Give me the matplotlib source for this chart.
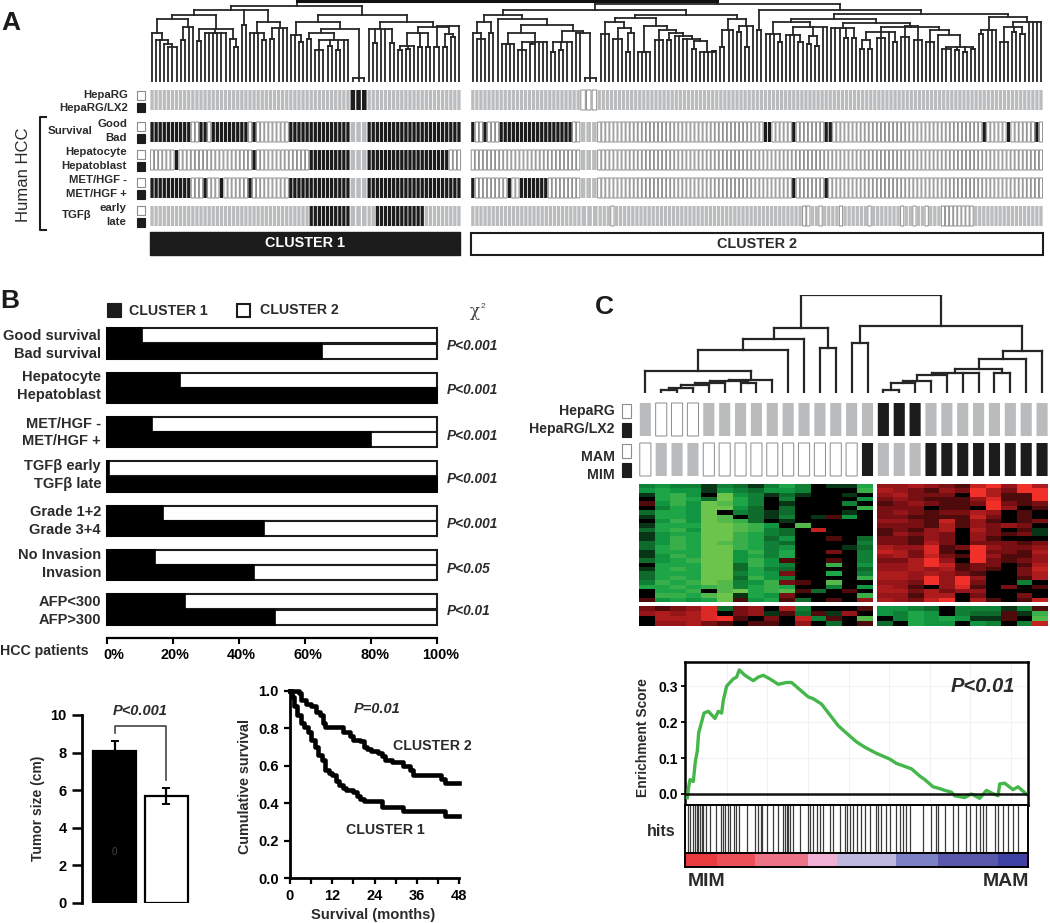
import re
import numpy as np
import matplotlib
matplotlib.use('Agg')
import matplotlib.pyplot as plt
from matplotlib.colors import LinearSegmentedColormap
from matplotlib.patches import Rectangle
from matplotlib.transforms import ScaledTranslation

plt.rcParams['font.family'] = ['Liberation Sans', 'DejaVu Sans']
plt.rcParams['font.weight'] = 'bold'
plt.rcParams['text.color'] = '#2b2b2b'

W, H = 1050, 923
INK = '#1c1c1c'
GREY = '#b9bbbd'

## Panel A, tracks as runs of k(black) w(white) g(grey). Block of 3 in the middle of each cluster is wider
hepa_c1 = "49g 3k 23g"
surv_c1 = "10k 2w 2k 1w 9k 1w 1k 8w 15k 3g 23k"
hepato_c1 = "6w 1k 18w 1k 13w 10k 3g 20k 3w"
met_c1 = "10k 3w 1k 3w 1k 6w 1k 9w 15k 3g 23k"
tgf_c1 = "39g 10k 3g 2g 12k 9g"

hepa_c2 = "27g 3w 110g"
surv_c2 = "1k 2w 1k 3w 18k 2w 3g 41w 2k 5w 1k 7w 2k 37w 1k 5w 1k 6w 1k 1w"
hepato_c2 = "27w 3g 110w"
met_c2 = "1k 8w 1k 2w 7k 8w 3g 48w 1k 7w 1k 53w"
tgf_c2 = "27g 3g 3g 1w 46g 2w 2g 1w 4g 1w 6g 1w 7g 1w 2g 1w 2g 1w 3g 8w 17g"

## dendrogram nodes: [height, children...], a number is a leaf of that width
block = [4, 1.4, 1.4, 1.4]
s1 = [49, 1, [42, 1, 1, [38, 1, [35, 1, 1, 1]]]]
s2 = [55, [42, 1, 1], 1, 1]
s3 = [53, [41, 1, 1], [49, 1, 1, 1, 1, 1, 1], [43, 1, [35, 1, 1]]]
s4a = [57, 1, 1]
s4b = [60, [49, 1, 1, 1, [42, 1, 1]], [54, [43, 1, 1], 1, 1, 1]]
r1a = [47, 1, 1, [40, 1, 1]]
r1c = [49, [43, 1, 1], [42, [32, 1, 1, 1], [36, 1, 1], [32, 1, 1], 1, 1]]
r2a = [53, 1, [39, 1, 1], 1, 1, [39, 1, 1]]
r2b = [49, [36, [32, 1, 1], [33, 1, 1], 1], [35, 1, 1], [35, 1, 1]]
r2c = [56, [35, 1, 1], [48, [35, 1, 1], [45, 1, 1]], 1]
tree_c1 = [76, [72, [67, [63, s1, s2], s3], s4a, s4b],
           [67, [60, r1a, [53, r1c, block]], [60, r2a, [55, r2b, r2c]]]]

a = [60, [49, 1, [43, 1, 1, 1]], [49, 1, 1]]
b1 = [49, [38, 1, 1, 1, 1], [40, [32, 1, 1, 1], [38, 1, 1], 1, 1, 1]]
b2 = [51, [40, [30, 1, 1], [32, 1, 1], 1, 1], [49, 1, 1, block]]
b = [63, 1, [57, b1, b2]]
c1 = [60, [48, 1, 1, 1], [54, [43, 1, 1, 1], [49, [30, 1, 1], 1]]]
c2 = [56, [30, 1, 1, 1, 1], [52, [42, 1, 1, 1], [49, [42, 1, 1], [46, 1, 1, [43, 1, 1, [41, [33, 1, 1], [30, 1, 1, 1, [31, 1, 1]]]]]]]]
c3 = [63, [52, [35, 1, 1], 1, 1], [56, [50, 1, 1], [35, 1, 1], 1]]
e1a = [60, [48, 1, 1, 1, [40, 1, 1]], [55, [47, 1, 1, 1, [40, 1, 1]], [46, [38, 1, 1], [36, 1, 1]], 1, 1]]
e1b = [59, [54, 1, 1, 1, [44, 1, 1], [44, 1, 1]],
       [55, [50, [42, [33, 1, 1], [33, 1, 1]], [44, 1, 1, 1], 1, [40, 1, 1]],
        [56, [45, 1, 1, 1], [42, 1, 1, 1]],
        [52, [40, 1, 1, 1], [47, 1, [35, [33, 1, 1, 1], [32, 1, 1], [30, 1, 1], [33, 1, 1]]]]]]
e2 = [65, [52, [48, 1, 1], 1, 1, 1], [60, [55, [40, 1, 1, 1], [50, 1, 1], [48, 1, 1]], 1, 1, 1, 1]]
tree_c2 = [78, [72, [67, a, b], [67, [64, c1, c2], c3]],
           [72, [52, 1, 1], [68, [63, e1a, e1b], e2]]]

## Panel B
cluster1_pct = [10.5, 65, 22, 100, 13.5, 80, 0.5, 100, 17, 47.5, 14.5, 44.5, 23.5, 51]
row_labels = ['Good survival', 'Bad survival', 'Hepatocyte', 'Hepatoblast', 'MET/HGF -', 'MET/HGF +',
              'TGFβ early', 'TGFβ late', 'Grade 1+2', 'Grade 3+4', 'No Invasion', 'Invasion',
              'AFP<300', 'AFP>300']
p_values = ['P<0.001', 'P<0.001', 'P<0.001', 'P<0.001', 'P<0.001', 'P<0.05', 'P<0.01']
pct_ticks = [0, 20, 40, 60, 80, 100]

## tumor size
tumor_size = [8.1, 5.7]
tumor_err_low = [0, 0.42]
tumor_err_high = [0.5, 0.4]

## survival curves
km2_t = [0, 1, 2.5, 3, 4.5, 6, 7.5, 8.5, 9.5, 10, 13, 15, 17, 18, 20, 21, 22, 23, 25, 26, 27, 29, 32, 34, 35, 42, 43, 44, 48]
km2_s = [1, 1, .99, .95, .93, .92, .89, .87, .83, .81, .81, .78, .76, .74, .73, .70, .69, .68, .67, .65, .63, .62, .60, .58, .55, .55, .53, .51, .51]
km1_t = [0, .5, 1, 2, 3, 4, 5, 6, 7, 8, 9, 10, 11, 12, 13, 14, 15, 16, 18, 19, 20, 21, 25, 26, 31, 32, 43, 44, 48]
km1_s = [1, .97, .92, .87, .83, .81, .78, .74, .70, .66, .63, .58, .56, .55, .52, .50, .48, .47, .46, .44, .42, .41, .41, .38, .38, .36, .36, .33, .33]

## Panel C
hepa_c = "1g 3w 11g 3k 8g"
mam_c = "1w 3g 10w 1k 3g 8k"
tree_c = [98,
          [65, [54, [43, [22, 1, [13, [12, [10, [8, [5, [3, 1, 1], 1], 1], 1], [10, 1, 1]], 1]], 1], 1], [45, 1, 1]],
          [67, [50, 1, 1],
           [42, [34, [24, [20, [18, [12, [10, [3, 1, 1], 1], 1], 1], 1, 1], [20, 1, 1]], 1], 1]]]

# digits are green levels, letters are red levels, 0 is black
heat_left = ["343313213530115", "454414324430006", "156408431210010", "056528530300004",
             "a46487530100030", "035488420200006", "255480321200010", "155487021301a40",
             "046487620100000", "155588764070000", "25648876320e000", "145588653200000",
             "146588652400a02", "246587653200003", "256588653400012", "155588463500b03",
             "146588453500003", "245688464a00a03", "055588264300604", "156588253200002",
             "255588354b00503", "256588264300006", "365687346ba0700", "556567356500304",
             "0556078567a20a0", "066578154b00006", "a45458a45a20a0c"]
heat_right = ["ccdcbaegchd", "dcbacbgdbhg", "cdbbb0hdaai", "bcbaaacfaai", "abcbaabgbab", "bbb0aa0hc0a",
              "bcbabbdc0a0", "bbaaaaeb0a0", "ccbaeaca0ab", "bbbadacbcb0", "abacd0db0a1", "acbcb0cbab1",
              "bbacb0ca000", "bbadb0bbbab", "dccfabgcbbc", "edbfa0hbbad", "cdbebagcaac", "bbdhc0gbabc",
              "ccdheabb0ad", "ccdcdaba0be", "ddcdcba00bd", "ddcgchc00ad", "ccbhchb0030", "dca0cfa0b0a",
              "ddbdbcc0000", "ccadd0b00b0", "dcbeg0da0ae"]
low_left = ["babcf2bc0d3000a", "cdcdf0bc1a2a1c0", "0dddfha0b0e3a07", "0ccdba0aa0c020a"]
low_right = ["4432033313a", "43540322a16", "03545411a07", "2054404303e"]

## enrichment plot, x is gene rank on the axis scale
rank = [172, 176, 180, 190, 196, 202, 206, 212, 222, 235, 255, 265, 275, 280, 290, 300, 310, 320, 328, 345, 370, 385,
        400, 420, 445, 470, 485, 510, 535, 550, 575, 600, 625, 655, 680, 705, 740, 780, 800, 845, 870, 885, 910, 930,
        945, 965, 975, 1005, 1025, 1050, 1070, 1085, 1105, 1110, 1125, 1150, 1165, 1190]
enrichment = [-.01, .02, .04, .035, .09, .12, .17, .19, .225, .23, .21, .23, .225, .26, .30, .31, .32, .325, .345, .33,
              .315, .325, .33, .32, .305, .31, .31, .29, .27, .265, .25, .22, .19, .165, .145, .13, .113, .097, .085,
              .07, .05, .04, .02, .015, .01, .005, -.005, -.01, 0, -.012, .01, .003, -.005, .028, .03, .012, .02, 0]
hits = [175, 180, 190, 195, 200, 205, 210, 215, 220, 228, 240, 258, 272, 278, 285, 295, 300, 312, 318, 328, 350, 375,
        385, 392, 395, 410, 430, 445, 460, 465, 470, 475, 480, 490, 510, 535, 540, 550, 560, 570, 580, 600, 610, 630,
        645, 650, 660, 670, 680, 695, 705, 720, 740, 745, 755, 770, 780, 800, 810, 820, 830, 840, 880, 905, 920, 925,
        945, 970, 985, 1010, 1020, 1040, 1050, 1060, 1070, 1095, 1105, 1120, 1135, 1150, 1165]
rank_edges = [165, 260, 375, 535, 620, 800, 925, 1105, 1185, 1195]
rank_colors = ['#e93a40', '#ea5058', '#ec7488', '#efb0d4', '#bfb8de', '#7c80c4', '#5a58ac', '#3e42a2', '#5a3c98']

fig = plt.figure(figsize=(W / 100, H / 100), dpi=100)


def px_axes(x0, y0, x1, y1, **kw):
    return fig.add_axes([x0 / W, 1 - y1 / H, (x1 - x0) / W, (y1 - y0) / H], **kw)


def expand(runs):
    return ''.join(ch * int(n) for n, ch in re.findall(r'(\d+)([kwg])', runs))


def leaf_total(node):
    if not isinstance(node, list):
        return node
    return sum(leaf_total(c) for c in node[1:])


def draw_tree(ax, node, x, scale, lw):
    """returns centre x, height and the next free x"""
    if not isinstance(node, list):
        return x + node * scale / 2, 0, x + node * scale
    centres = []
    for child in node[1:]:
        cx, ch, x = draw_tree(ax, child, x, scale, lw)
        ax.plot([cx, cx], [ch, node[0]], color='#262626', lw=lw, solid_capstyle='projecting')
        centres.append(cx)
    ax.plot([centres[0], centres[-1]], [node[0], node[0]], color='#262626', lw=lw, solid_capstyle='projecting')
    return (centres[0] + centres[-1]) / 2, node[0], x


def draw_cells(ax, states, widths, y0, height, fill=0.8, start=0):
    x = start
    for st, w in zip(states, widths):
        face = {'k': INK, 'w': 'white', 'g': GREY}[st]
        edge = '#8c8c8c' if st == 'w' else 'none'
        cell = ax.bar(x + w * (1 - fill) / 2, height, width=w * fill, bottom=y0, align='edge',
                      color=face, edgecolor=edge, linewidth=0.7 if st == 'w' else 0)
        cell[0].set_snap(False)
        x += w


## page layer for all the loose labels
page = px_axes(0, 0, W, H)
page.set_xlim(0, W)
page.set_ylim(H, 0)
page.axis('off')
page.set_zorder(10)
page.patch.set_alpha(0)


def label(x, y, s, size=8.2, ha='right', **kw):
    page.text(x, y, s, fontsize=size, ha=ha, va='center', **kw)


def key_square(x, y, w, h, color):
    page.add_patch(Rectangle((x, y), w, h, facecolor=color, edgecolor=INK if color != 'white' else '#8c8c8c', lw=0.8))


## Panel A
label(1, 23, 'A', 19, ha='left', color=INK)
cells_c1 = 76.2
cells_c2 = 140.2
gap = 2.4
total = cells_c1 + gap + cells_c2

den = px_axes(150, 0, 1043, 82)
den.set_xlim(0, total)
den.set_ylim(0, 82)
den.axis('off')
x1, h1, _ = draw_tree(den, tree_c1, 0, cells_c1 / leaf_total(tree_c1), 1.3)
x2, h2, _ = draw_tree(den, tree_c2, cells_c1 + gap, cells_c2 / leaf_total(tree_c2), 1.3)
den.plot([x1, x1], [h1, 81], color='#262626', lw=1.3)
den.plot([x2, x2], [h2, 81], color='#262626', lw=1.3)
den.plot([x1, x2], [81, 81], color='#111111', lw=2.2, clip_on=False)

tracks = px_axes(150, 88, 1043, 228)
tracks.set_xlim(0, total)
tracks.set_ylim(228, 88)
tracks.axis('off')
track_rows = [(hepa_c1, hepa_c2, 90), (surv_c1, surv_c2, 122), (hepato_c1, hepato_c2, 150),
              (met_c1, met_c2, 178), (tgf_c1, tgf_c2, 206)]
for runs1, runs2, y in track_rows:
    st1 = expand(runs1)
    st2 = expand(runs2)
    w1 = np.array([1] * 49 + [1.4] * 3 + [1] * (len(st1) - 52))
    w2 = np.array([1] * 27 + [1.4] * 3 + [1] * (len(st2) - 30))
    draw_cells(tracks, st1, w1 * cells_c1 / w1.sum(), y, 20)
    draw_cells(tracks, st2, w2 * cells_c2 / w2.sum(), y, 20, start=cells_c1 + gap)

for y_w, y_k in [(91, 103), (122, 134), (150, 162), (178, 190), (206, 218)]:
    key_square(137, y_w, 8, 9, 'white')
    key_square(137, y_k, 8, 9, INK)

label(128, 95, 'HepaRG')
label(128, 108, 'HepaRG/LX2')
label(127, 124, 'Good')
label(127, 138, 'Bad')
label(92, 131, 'Survival')
label(127, 152, 'Hepatocyte')
label(127, 166, 'Hepatoblast')
label(127, 180, 'MET/HGF -')
label(127, 194, 'MET/HGF +')
label(126, 208, 'early')
label(126, 222, 'late')
label(91, 215, 'TGFβ')
page.text(24, 175, 'Human HCC', fontsize=12, fontweight='normal', rotation=90, ha='center', va='center')
page.plot([46, 40, 40, 46], [117, 117, 230, 230], color=INK, lw=1.5)
page.add_patch(Rectangle((150, 232), 310, 23, facecolor=INK, edgecolor=INK))
page.add_patch(Rectangle((471, 233), 572, 22, facecolor='white', edgecolor=INK, lw=1.5))
label(305, 243, 'CLUSTER 1', 10.4, ha='center', color='white')
label(757, 244, 'CLUSTER 2', 10.4, ha='center')

## Panel B
label(0, 301, 'B', 19, ha='left', color=INK)
key_square(107, 303, 14, 14, INK)
label(129, 311, 'CLUSTER 1', 10.2, ha='left')
page.add_patch(Rectangle((237, 304), 13, 13, facecolor='white', edgecolor=INK, lw=1.5))
label(260, 310, 'CLUSTER 2', 10.2, ha='left')
page.text(475, 311, 'χ', fontsize=12, family='DejaVu Serif', fontweight='normal', ha='center', va='center', color='#444444')
page.text(483, 306, '2', fontsize=6, fontweight='normal', ha='center', va='center', color='#444444')

bars = px_axes(107, 328, 437, 638)
row_pos = np.array([g * 2.86 + r for g in range(7) for r in (0, 1)])
bars.barh(row_pos, [100] * 14, height=0.97, color='white', edgecolor=INK, linewidth=1.5, clip_on=False)
bars.barh(row_pos, cluster1_pct, height=0.97, color='black', edgecolor='black', linewidth=1.2, clip_on=False)
bars.set_xlim(0, 100)
bars.set_ylim(19.5, -0.5)
for side in ['top', 'left', 'right']:
    bars.spines[side].set_visible(False)
bars.spines['bottom'].set_linewidth(1.6)
bars.set_yticks([])
bars.set_xticks(pct_ticks)
bars.set_xticklabels([f'{t}%' for t in pct_ticks], fontsize=10.4)
bars.tick_params(axis='x', length=4, width=1.5, pad=3)
for tick_label, shift in zip(bars.get_xticklabels(), [7, 2, 2, 3, 4, 4]):
    tick_label.set_transform(tick_label.get_transform() + ScaledTranslation(shift / 100, 0, fig.dpi_scale_trans))
bars.patch.set_alpha(0)

row_text_y = [336, 354, 377, 395, 424, 441, 466, 484, 512, 530, 555, 573, 602, 620]
for y, s in zip(row_text_y, row_labels):
    label(101, y, s, 10.5)
p_text_y = [346, 390, 436, 479, 524, 569, 611]
for y, s in zip(p_text_y, p_values):
    page.text(447, y, s, fontsize=9.8, style='italic', ha='left', va='center')
label(0, 651, 'HCC patients', 10.2, ha='left')

## tumor size
tum = px_axes(82, 715, 195, 903)
tum.bar([0, 1], tumor_size, width=0.83, color=['black', 'white'], edgecolor='black', linewidth=1.6)
tum.errorbar([0, 1], tumor_size, yerr=[tumor_err_low, tumor_err_high], fmt='none', ecolor='black', elinewidth=1.6,
             capsize=3, capthick=1.4)
tum.plot([0, 0, 1, 1], [9.03, 9.43, 9.43, 6.55], color='#444444', lw=1.2)
tum.text(0, 2.7, '0', fontsize=7, fontweight='normal', ha='center', va='center', color='#444444')
tum.set_xlim(-0.63, 1.56)
tum.set_ylim(0, 10)
for side in ['top', 'right', 'bottom']:
    tum.spines[side].set_visible(False)
tum.spines['left'].set_linewidth(2)
tum.set_xticks([])
tum.set_yticks([0, 2, 4, 6, 8, 10])
tum.tick_params(axis='y', length=7, width=1.8, labelsize=10.5, pad=4)
tum.patch.set_alpha(0)
label(140, 711, 'P<0.001', 10.5, ha='center', style='italic')
page.text(38, 808, 'Tumor size (cm)', fontsize=10, rotation=90, ha='center', va='center')

## survival
km = px_axes(290, 691, 459, 878)
km.step(km2_t, km2_s, where='post', color='black', lw=3.3, clip_on=False)
km.step(km1_t, km1_s, where='post', color='black', lw=3.3, clip_on=False)
km.set_xlim(0, 48)
km.set_ylim(0, 1)
for side in ['top', 'right']:
    km.spines[side].set_visible(False)
km.spines['left'].set_linewidth(2)
km.spines['bottom'].set_linewidth(2)
km.set_xticks([0, 6, 12, 18, 24, 30, 36, 42, 48])
km.set_xticklabels(['0', '', '12', '', '24', '', '36', '', '48'])
km.set_yticks([0, .2, .4, .6, .8, 1])
km.set_yticklabels(['0.0', '0.2', '0.4', '0.6', '0.8', '1.0'])
km.tick_params(axis='both', length=4, width=1.6, labelsize=10.5, pad=4)
km.patch.set_alpha(0)
page.text(377, 709, 'P=0.01', fontsize=10.5, style='italic', ha='center', va='center')
label(393, 746, 'CLUSTER 2', 10.2, ha='left')
label(346, 830, 'CLUSTER 1', 10.2, ha='left')
label(373, 915, 'Survival (months)', 10.6, ha='center')
page.text(245, 787, 'Cumulative survival', fontsize=10.3, rotation=90, ha='center', va='center')

## Panel C
label(595, 307, 'C', 19, ha='left', color=INK)
den_c = px_axes(637.4, 295, 1050, 393)
den_c.set_xlim(0, 26)
den_c.set_ylim(0, 98)
den_c.axis('off')
draw_tree(den_c, tree_c, 0, 1, 1.6)

tr_c = px_axes(637.4, 400, 1050, 480)
tr_c.set_xlim(0, 26)
tr_c.set_ylim(480, 400)
tr_c.axis('off')
draw_cells(tr_c, expand(hepa_c), [1] * 26, 403, 33, fill=0.7)
draw_cells(tr_c, expand(mam_c), [1] * 26, 443, 33, fill=0.7)

key_square(622, 404, 9, 14, 'white')
key_square(622, 423, 9, 14, INK)
key_square(622, 444, 9, 14, 'white')
key_square(622, 463, 9, 14, INK)
label(615, 411, 'HepaRG', 10.2)
label(615, 429, 'HepaRG/LX2', 10.2)
label(615, 457, 'MAM', 10.2)
label(615, 475, 'MIM', 10.2)

heat_cmap = LinearSegmentedColormap.from_list('gbr', [(0, '#6cc44c'), (0.22, '#12a047'), (0.38, '#0f6a2c'), (0.5, '#000000'),
                                                      (0.72, '#8a1216'), (1, '#f2302a')])


def decode(rows, n):
    out = []
    for row in rows:
        row = row[:n].ljust(n, '0')
        vals = []
        for ch in row:
            if ch.isdigit():
                vals.append(-int(ch) / 8)
            else:
                vals.append(min((ord(ch) - 95) / 8, 1))
        out.append(vals)
    return np.array(out)


for rows, n, rect in [(heat_left, 15, (639, 484, 873, 602)), (heat_right, 11, (877, 484, 1048, 602)),
                      (low_left, 15, (639, 606, 873, 626)), (low_right, 11, (877, 606, 1048, 626))]:
    hm = px_axes(*rect)
    hm.imshow(decode(rows, n), cmap=heat_cmap, vmin=-1, vmax=1, aspect='auto', interpolation='nearest')
    hm.axis('off')

## enrichment
es = px_axes(685, 662, 1028, 805)
es.plot(rank, enrichment, color='#45b649', lw=2.4, zorder=3)
es.axhline(0, color='#111111', lw=1.8, zorder=4)
es.set_xlim(165, 1195)
es.set_ylim(-0.0306, 0.367)
es.set_xticks(np.arange(290, 1195, 122))
es.set_yticks([0, .1, .2, .3])
es.set_yticklabels(['0.0', '0.1', '0.2', '0.3'])
es.grid(color='#f1f1f1', lw=0.8)
es.set_axisbelow(True)
es.tick_params(axis='x', length=0, labelbottom=False)
es.tick_params(axis='y', length=3, width=1.3, labelsize=10, pad=2)
for side in es.spines.values():
    side.set_linewidth(1.8)
page.text(983, 687, 'P<0.01', fontsize=14.5, style='italic', ha='center', va='center')
page.text(643, 738, 'Enrichment Score', fontsize=10, rotation=90, ha='center', va='center')

hit_ax = px_axes(685, 805, 1028, 853)
hit_ax.vlines(hits, 0, 1, color='#3a3a3a', lw=0.9)
hit_ax.set_xlim(165, 1195)
hit_ax.set_ylim(0, 1)
hit_ax.set_xticks([])
hit_ax.set_yticks([])
for side in hit_ax.spines.values():
    side.set_linewidth(1.4)
label(661, 831, 'hits', 11.5, ha='center')

rb = px_axes(685, 853, 1028, 867)
rb.bar(rank_edges[:-1], [1] * len(rank_colors), width=np.diff(rank_edges), align='edge', color=rank_colors)
rb.set_xlim(165, 1195)
rb.set_ylim(0, 1)
rb.set_xticks([])
rb.set_yticks([])
for side in rb.spines.values():
    side.set_linewidth(1.4)
label(688, 881, 'MIM', 14, ha='left')
label(1029, 881, 'MAM', 14, ha='right')

fig.savefig('out.png', dpi=100)
